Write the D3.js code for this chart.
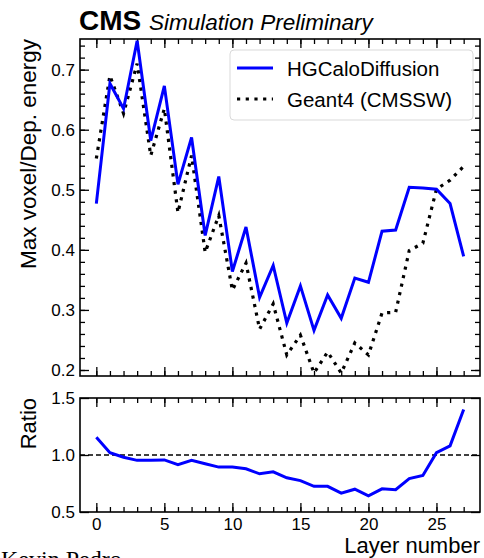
<!DOCTYPE html>
<html>
<head>
<meta charset="utf-8">
<script src="https://cdn.jsdelivr.net/npm/d3@7"></script>
<style>
  body { margin: 0; background: #fff; }
  svg { display: block; font-family: "Liberation Sans", Arial, sans-serif; }
  .tick text { font-size: 17px; fill: #000; }
  .tick line { stroke: #000; stroke-width: 1.3; }
</style>
</head>
<body>
<div id="chart"></div>
<script>
const layers = d3.range(0, 28);
const diffusion = [0.477, 0.677, 0.635, 0.748, 0.582, 0.673, 0.509, 0.587, 0.424, 0.522,
                   0.364, 0.438, 0.321, 0.374, 0.278, 0.340, 0.266, 0.325, 0.286, 0.353,
                   0.346, 0.431, 0.433, 0.504, 0.503, 0.501, 0.477, 0.389];
const geant4 = [0.552, 0.690, 0.627, 0.710, 0.557, 0.635, 0.462, 0.557, 0.396, 0.457,
                0.333, 0.378, 0.268, 0.310, 0.225, 0.258, 0.195, 0.230, 0.195, 0.245,
                0.225, 0.295, 0.296, 0.399, 0.411, 0.501, 0.516, 0.539];
const ratio = [1.155, 1.02, 0.98, 0.953, 0.955, 0.957, 0.915, 0.953, 0.923, 0.894,
               0.894, 0.879, 0.835, 0.852, 0.80, 0.775, 0.725, 0.725, 0.666, 0.70,
               0.642, 0.703, 0.695, 0.793, 0.82, 1.02, 1.08, 1.40];
const mainTicks = [0.2, 0.3, 0.4, 0.5, 0.6, 0.7];
const ratioTicks = [0.5, 1.0, 1.5];
const xTicks = [0, 5, 10, 15, 20, 25];
const seriesNames = ["HGCaloDiffusion", "Geant4 (CMSSW)"];

const W = 484, H = 558;
const left = 80, right = 480;
const main = { top: 39, bottom: 376 };
const rat = { top: 398, bottom: 512 };

const svg = d3.select("#chart").append("svg")
  .attr("width", W).attr("height", H);

const x = d3.scaleLinear().domain([-1.2, 28.2]).range([left, right]);
const y = d3.scaleLinear().domain([0.19, 0.751]).range([main.bottom, main.top]);
const yr = d3.scaleLinear().domain([0.5, 1.5]).range([rat.bottom, rat.top]);

const major = 9, minor = 5;

function drawAxis(axis, tx, ty) {
  const g = svg.append("g").attr("transform", `translate(${tx},${ty})`).call(axis);
  g.select(".domain").remove();
  return g;
}

// x axes (major + minor) for a panel
function xAxes(top, bottom, labels) {
  drawAxis(d3.axisBottom(x).tickValues(xTicks).tickSizeInner(-major).tickSizeOuter(0)
    .tickPadding(6).tickFormat(labels ? d3.format("d") : ""), 0, bottom);
  drawAxis(d3.axisBottom(x).tickValues(layers).tickSizeInner(-minor).tickSizeOuter(0).tickFormat(""), 0, bottom);
  drawAxis(d3.axisTop(x).tickValues(xTicks).tickSizeInner(-major).tickSizeOuter(0).tickFormat(""), 0, top);
  drawAxis(d3.axisTop(x).tickValues(layers).tickSizeInner(-minor).tickSizeOuter(0).tickFormat(""), 0, top);
}

// y axes for a panel
function yAxes(scale, ticks, minors, fmt) {
  drawAxis(d3.axisLeft(scale).tickValues(ticks).tickSizeInner(-major).tickSizeOuter(0)
    .tickPadding(5).tickFormat(fmt), left, 0);
  drawAxis(d3.axisRight(scale).tickValues(ticks).tickSizeInner(-major).tickSizeOuter(0).tickFormat(""), right, 0);
  if (minors.length) {
    drawAxis(d3.axisLeft(scale).tickValues(minors).tickSizeInner(-minor).tickSizeOuter(0).tickFormat(""), left, 0);
    drawAxis(d3.axisRight(scale).tickValues(minors).tickSizeInner(-minor).tickSizeOuter(0).tickFormat(""), right, 0);
  }
}

const mainMinor = d3.range(0.2, 0.751, 0.02).map(v => +v.toFixed(2));
xAxes(main.top, main.bottom, false);
yAxes(y, mainTicks, mainMinor, d3.format(".1f"));

xAxes(rat.top, rat.bottom, true);
yAxes(yr, ratioTicks, [], d3.format(".1f"));

// clip paths
svg.append("clipPath").attr("id", "clipMain").append("rect")
  .attr("x", left).attr("y", main.top).attr("width", right - left).attr("height", main.bottom - main.top);
svg.append("clipPath").attr("id", "clipRat").append("rect")
  .attr("x", left).attr("y", rat.top).attr("width", right - left).attr("height", rat.bottom - rat.top);

const lineMain = (arr) => d3.line().x((d, i) => x(layers[i])).y(d => y(d))(arr);

svg.append("path")
  .attr("clip-path", "url(#clipMain)")
  .attr("d", lineMain(geant4))
  .attr("fill", "none").attr("stroke", "#000").attr("stroke-width", 3.2)
  .attr("stroke-dasharray", "3.2,5.5");

svg.append("path")
  .attr("clip-path", "url(#clipMain)")
  .attr("d", lineMain(diffusion))
  .attr("fill", "none").attr("stroke", "#0000ff").attr("stroke-width", 3);

// ratio panel
svg.append("line")
  .attr("x1", left).attr("x2", right).attr("y1", yr(1)).attr("y2", yr(1))
  .attr("stroke", "#000").attr("stroke-width", 1.5).attr("stroke-dasharray", "5,3");

svg.append("path")
  .attr("clip-path", "url(#clipRat)")
  .attr("d", d3.line().x((d, i) => x(layers[i])).y(d => yr(d))(ratio))
  .attr("fill", "none").attr("stroke", "#0000ff").attr("stroke-width", 3);

// frames
[main, rat].forEach(p => {
  svg.append("rect")
    .attr("x", left).attr("y", p.top).attr("width", right - left).attr("height", p.bottom - p.top)
    .attr("fill", "none").attr("stroke", "#000").attr("stroke-width", 1.6);
});

// legend
const lg = svg.append("g").attr("transform", "translate(230,50)");
lg.append("rect").attr("width", 243).attr("height", 70).attr("rx", 4)
  .attr("fill", "#fff").attr("fill-opacity", 0.8).attr("stroke", "#d9d9d9").attr("stroke-width", 1);
lg.append("line").attr("x1", 7).attr("x2", 43).attr("y1", 18).attr("y2", 18)
  .attr("stroke", "#0000ff").attr("stroke-width", 3);
lg.append("line").attr("x1", 7).attr("x2", 43).attr("y1", 49).attr("y2", 49)
  .attr("stroke", "#000").attr("stroke-width", 3.2).attr("stroke-dasharray", "3.2,5.5");
seriesNames.forEach((s, i) => {
  lg.append("text").attr("x", 57).attr("y", 25.5 + i * 31)
    .attr("font-size", 20.5).text(s);
});

// titles and labels
svg.append("text").attr("x", 79).attr("y", 30)
  .attr("font-size", 28).attr("font-weight", "bold").text("CMS");
svg.append("text").attr("x", 149).attr("y", 30)
  .attr("font-size", 22.5).attr("font-style", "italic").text("Simulation Preliminary");

svg.append("text")
  .attr("transform", `translate(36,${main.top}) rotate(-90)`)
  .attr("text-anchor", "end").attr("font-size", 22.5).text("Max voxel/Dep. energy");
svg.append("text")
  .attr("transform", `translate(36,${rat.top}) rotate(-90)`)
  .attr("text-anchor", "end").attr("font-size", 22).text("Ratio");
svg.append("text").attr("x", right).attr("y", 553)
  .attr("text-anchor", "end").attr("font-size", 22).text("Layer number");

svg.append("text").attr("x", 1).attr("y", 567)
  .attr("font-family", "'Liberation Serif', serif").attr("font-size", 24).text("Kevin Pedro");
</script>
</body>
</html>
